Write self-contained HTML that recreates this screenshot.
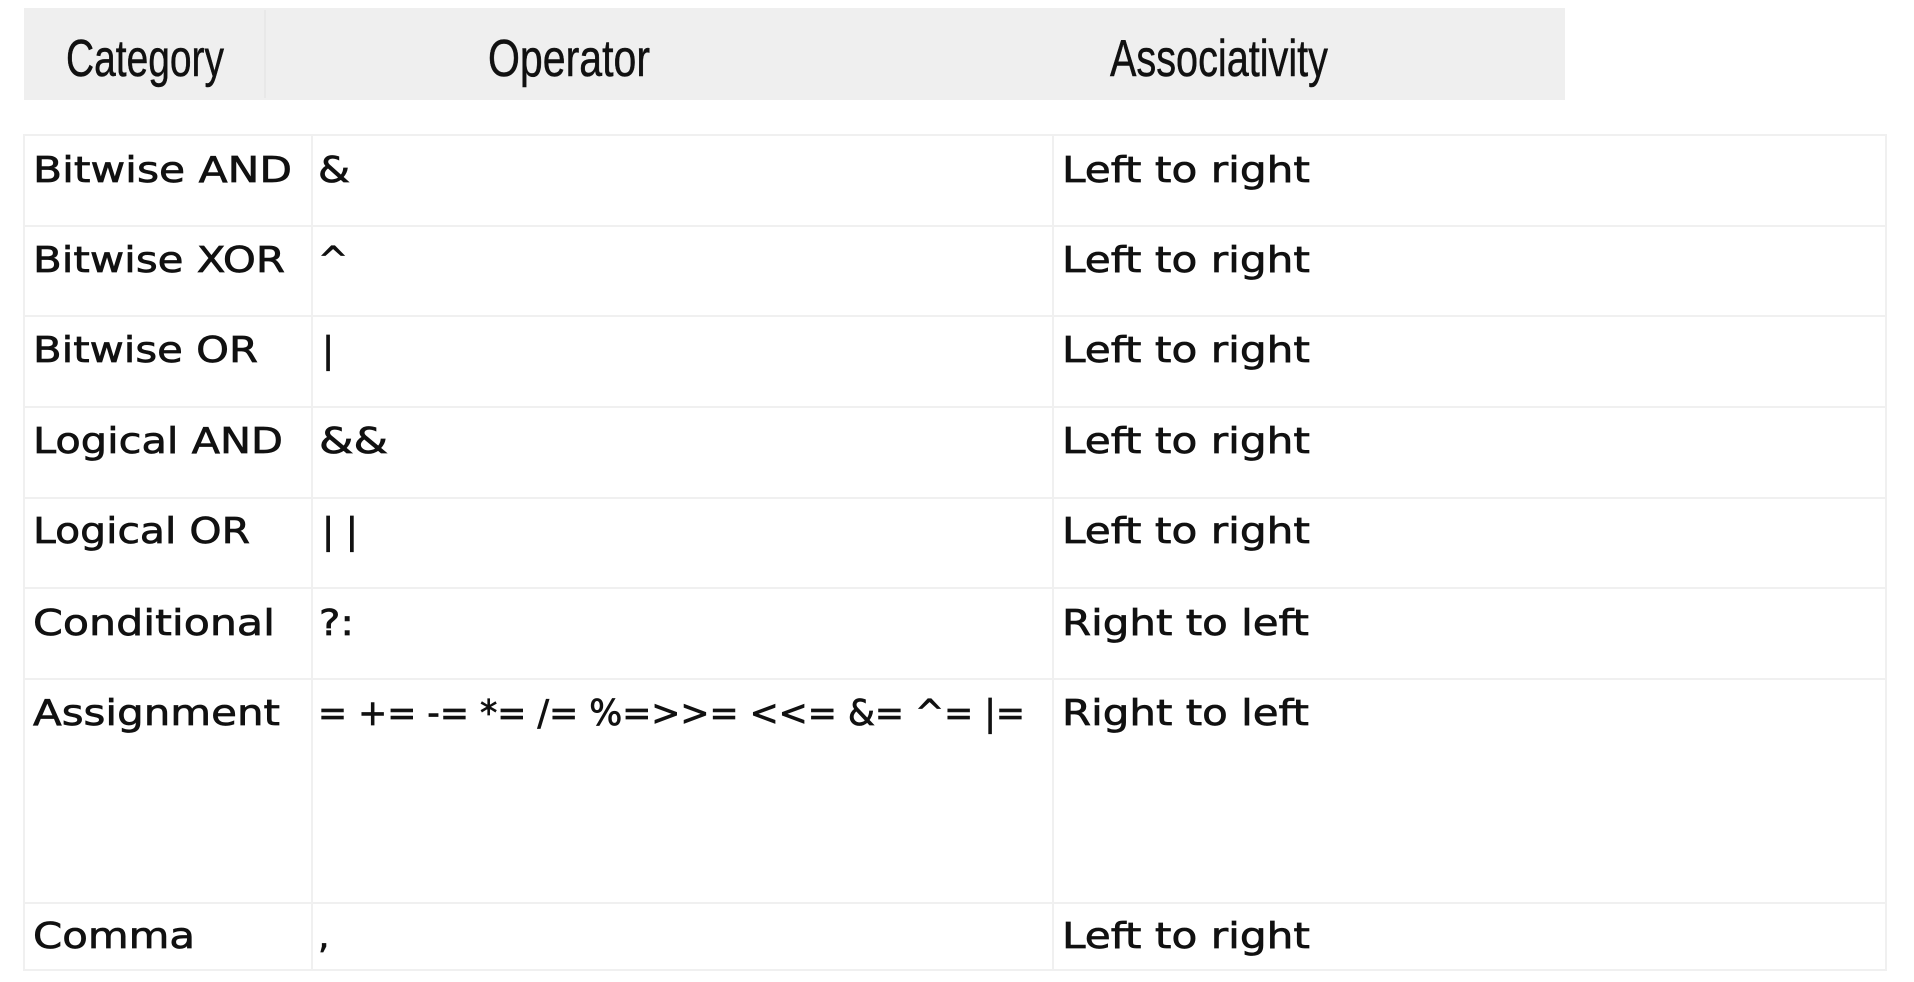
<!DOCTYPE html>
<html><head><meta charset="utf-8"><style>
html,body{margin:0;padding:0;background:#fff;width:1914px;height:982px;overflow:hidden}
svg{display:block}
.b{font-family:"DejaVu Sans","Liberation Sans",sans-serif;font-size:36px;fill:#111;stroke:#111;stroke-width:0.7}
.h{font-family:"Liberation Sans",sans-serif;font-size:52px;fill:#111;stroke:#111;stroke-width:0.5}
</style></head><body>
<svg width="1914" height="982" viewBox="0 0 1914 982" xmlns="http://www.w3.org/2000/svg">
<rect x="24" y="8" width="1541" height="92" fill="#efefef"/>
<line x1="265" y1="10" x2="265" y2="98" stroke="#e8e8e8" stroke-width="2"/>
<text class="h" x="66" y="76" textLength="158" lengthAdjust="spacingAndGlyphs">Category</text>
<text class="h" x="488" y="76" textLength="162" lengthAdjust="spacingAndGlyphs">Operator</text>
<text class="h" x="1110" y="76" textLength="218" lengthAdjust="spacingAndGlyphs">Associativity</text>
<g stroke="#f0f0f0" stroke-width="2" fill="none">
<rect x="24" y="135" width="1862" height="835"/>
<line x1="312" y1="135" x2="312" y2="970"/>
<line x1="1053" y1="135" x2="1053" y2="970"/>
<line x1="24" y1="226" x2="1886" y2="226"/>
<line x1="24" y1="316" x2="1886" y2="316"/>
<line x1="24" y1="407" x2="1886" y2="407"/>
<line x1="24" y1="498" x2="1886" y2="498"/>
<line x1="24" y1="588" x2="1886" y2="588"/>
<line x1="24" y1="679" x2="1886" y2="679"/>
<line x1="24" y1="903" x2="1886" y2="903"/>
</g>
<g class="b">
<text x="33" y="182" textLength="259" lengthAdjust="spacingAndGlyphs">Bitwise AND</text>
<text x="318" y="182" textLength="32" lengthAdjust="spacingAndGlyphs">&amp;</text>
<text x="1062" y="182" textLength="248" lengthAdjust="spacingAndGlyphs">Left to right</text>

<text x="33" y="272" textLength="252" lengthAdjust="spacingAndGlyphs">Bitwise XOR</text>
<text x="318" y="272">^</text>
<text x="1062" y="272" textLength="248" lengthAdjust="spacingAndGlyphs">Left to right</text>

<text x="33" y="362" textLength="225" lengthAdjust="spacingAndGlyphs">Bitwise OR</text>
<text x="322" y="362">|</text>
<text x="1062" y="362" textLength="248" lengthAdjust="spacingAndGlyphs">Left to right</text>

<text x="33" y="453" textLength="250" lengthAdjust="spacingAndGlyphs">Logical AND</text>
<text x="319" y="453" textLength="69" lengthAdjust="spacingAndGlyphs">&amp;&amp;</text>
<text x="1062" y="453" textLength="248" lengthAdjust="spacingAndGlyphs">Left to right</text>

<text x="33" y="543" textLength="217" lengthAdjust="spacingAndGlyphs">Logical OR</text>
<text x="322" y="543" textLength="36" lengthAdjust="spacingAndGlyphs">| |</text>
<text x="1062" y="543" textLength="248" lengthAdjust="spacingAndGlyphs">Left to right</text>

<text x="33" y="635" textLength="242" lengthAdjust="spacingAndGlyphs">Conditional</text>
<text x="319" y="635" textLength="35" lengthAdjust="spacingAndGlyphs">?:</text>
<text x="1062" y="635" textLength="247" lengthAdjust="spacingAndGlyphs">Right to left</text>

<text x="33" y="725" textLength="247" lengthAdjust="spacingAndGlyphs">Assignment</text>
<text x="318" y="725" textLength="707" lengthAdjust="spacingAndGlyphs">= += -= *= /= %=&gt;&gt;= &lt;&lt;= &amp;= ^= |=</text>
<text x="1062" y="725" textLength="247" lengthAdjust="spacingAndGlyphs">Right to left</text>

<text x="33" y="948" textLength="162" lengthAdjust="spacingAndGlyphs">Comma</text>
<text x="318" y="948">,</text>
<text x="1062" y="948" textLength="248" lengthAdjust="spacingAndGlyphs">Left to right</text>
</g>
</svg>
</body></html>
